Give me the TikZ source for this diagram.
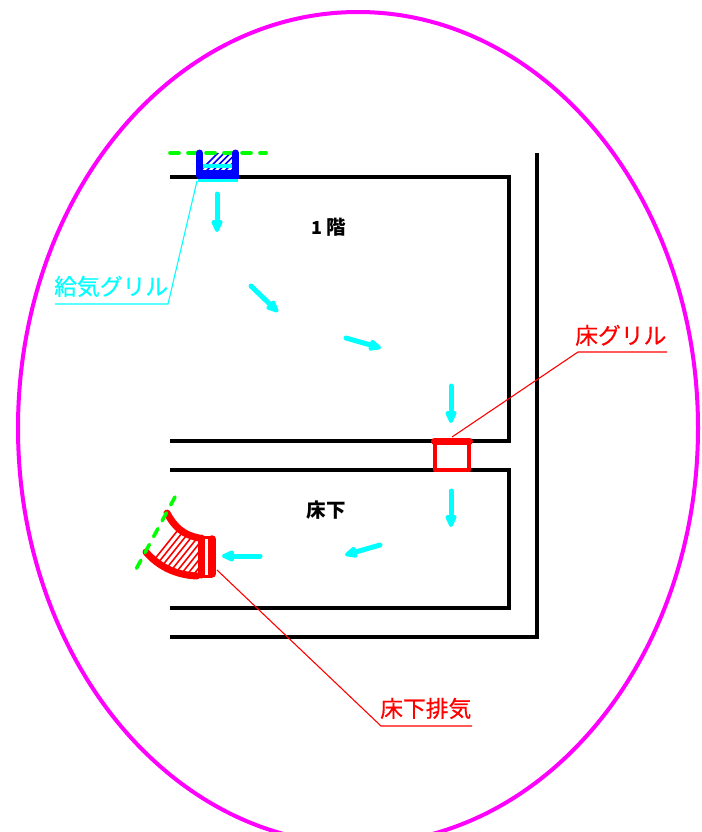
\documentclass[tikz,border=0pt]{standalone}
\usepackage{fontspec}
\setmainfont{Noto Sans CJK JP}
\newfontfamily\lblfont[FakeBold=0.4]{Noto Sans CJK JP}
\usetikzlibrary{arrows.meta}
\definecolor{mg}{RGB}{255,0,255}
\definecolor{cy}{RGB}{0,255,255}
\definecolor{rd}{RGB}{255,0,0}
\definecolor{gr}{RGB}{0,255,0}
\definecolor{bl}{RGB}{0,0,255}
\tikzset{
  wall/.style={draw=black,line width=4pt,line join=miter},
  flow/.style={draw=cy,line width=5pt,line cap=round,-{Triangle[length=15pt,width=12pt,round]}},
  leadc/.style={draw=cy,line width=1.1pt},
  leadr/.style={draw=rd,line width=1.1pt},
  lblc/.style={text=cy,font=\lblfont\fontsize{22.8}{24}\selectfont,inner sep=0pt},
  lblr/.style={text=rd,font=\lblfont\fontsize{22.8}{24}\selectfont,inner sep=0pt},
  room/.style={text=black,font=\fontsize{19.5}{21}\selectfont\bfseries,inner sep=0pt},
  greendash/.style={draw=gr,line width=3.6pt,line cap=round,dash pattern=on 9pt off 9pt},
  hatchline/.style={line width=1.6pt},
}
\begin{document}
\begin{tikzpicture}[x=1pt,y=-1pt]
\useasboundingbox (0,0) rectangle (701,832);
\clip (0,0) rectangle (701,832);
% boundary
\draw[mg,line width=4pt] (358,428) ellipse [x radius=340, y radius=416];
% walls
\draw[wall] (170,177) -- (509,177) -- (509,441) -- (170,441);
\draw[wall] (170,470) -- (509,470) -- (509,608) -- (170,608);
\draw[wall] (537,153) -- (537,637) -- (170,637);
% supply grille
\begin{scope}
  \clip (202,153) rectangle (233,171);
  \foreach \k in {0,...,8} {\draw[bl,hatchline] (196+\k*6.2,175) -- (220+\k*6.2,151);}
\end{scope}
\draw[cy,line width=4pt] (203,166) -- (233,166);
\draw[greendash] (170,153) -- (266,153);
\draw[cy,line width=3.4pt] (198,180.5) -- (238,180.5);
\draw[bl,line width=7pt,line cap=round,line join=round] (199.5,153) -- (199.5,175) -- (235.5,175) -- (235.5,153);
\fill[bl] (197,170) rectangle (239,179);
% floor grille
\draw[rd,line width=4.5pt,line join=round] (435,441) -- (435,470) -- (469,470) -- (469,441);
\draw[rd,line width=7pt,line cap=round] (434.5,441) -- (469.5,441);
% under-floor exhaust elbow
\begin{scope}
  \clip (168,512) .. controls (175,526) and (184,534) .. (198,537) -- (198,577) .. controls (175,576) and (157,566) .. (145,552) -- cycle;
  \foreach \k in {0,...,16} {\draw[rd,hatchline] (130+\k*6.4,590) -- (190+\k*6.4,515);}
\end{scope}
\draw[rd,line width=7pt,line cap=round,line join=round] (167,513) .. controls (175,528) and (184,535) .. (199,538);
\draw[rd,line width=7pt,line cap=round,line join=round] (146,552) .. controls (158,566) and (175,575) .. (197,576);
\draw[rd,line width=7pt,line cap=round] (201,538) -- (201,575);
\draw[rd,line width=7.5pt,line cap=round] (212,539) -- (212,574);
\draw[rd,line width=3pt] (200,537) -- (212,537);
\draw[rd,line width=3pt] (200,576) -- (212,576);
\draw[greendash] (175,497) -- (134,573);
% airflow arrows
\coordinate (a1s) at (217,194); \coordinate (a1e) at (217,232);
\coordinate (a2s) at (251,286); \coordinate (a2e) at (278,312);
\coordinate (a3s) at (346,338); \coordinate (a3e) at (381,348);
\coordinate (a4s) at (451,386); \coordinate (a4e) at (451,423);
\coordinate (a5s) at (451,491); \coordinate (a5e) at (451,527);
\coordinate (a6s) at (380,545); \coordinate (a6e) at (345,555);
\coordinate (a7s) at (260,556); \coordinate (a7e) at (222,556);
\foreach \i in {1,...,7} {\draw[flow] (a\i s) -- (a\i e);}
% labels
\node[room] (rm1) at (329,227) {{\fontsize{18}{20}\selectfont 1}\hspace{4pt}階};
\node[room] (rm2) at (326,510) {床下};
\node[lblc,anchor=base west] (sup) at (54,295) {給気グリル};
\node[lblr,anchor=base west] (flr) at (575,344) {床グリル};
\node[lblr,anchor=base west] (exh) at (380,717) {床下排気};
% leaders
\coordinate (s0) at (197,181); \coordinate (s1) at (168,304); \coordinate (s2) at (55,304);
\coordinate (f0) at (452,437); \coordinate (f1) at (578,352); \coordinate (f2) at (667,352);
\coordinate (e0) at (217,570); \coordinate (e1) at (381,726); \coordinate (e2) at (472,726);
\draw[leadc] (s0) -- (s1) -- (s2);
\draw[leadr] (f0) -- (f1) -- (f2);
\draw[leadr] (e0) -- (e1) -- (e2);
\end{tikzpicture}
\end{document}
